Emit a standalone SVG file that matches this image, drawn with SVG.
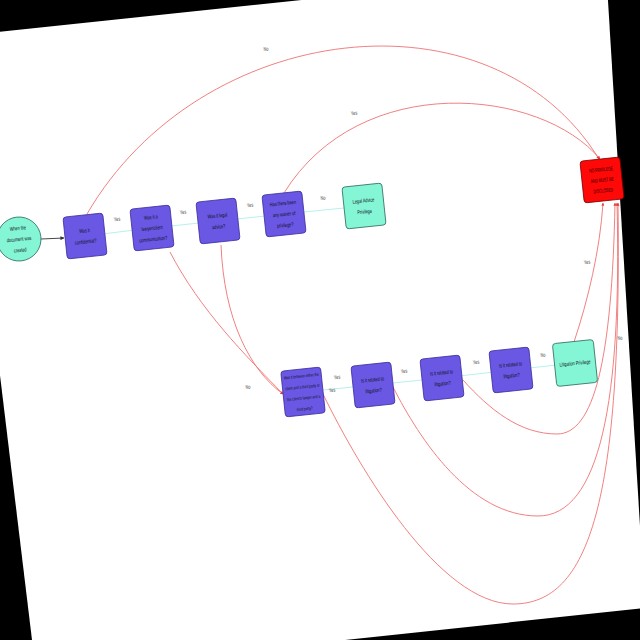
<svg xmlns="http://www.w3.org/2000/svg" width="640" height="640" viewBox="0 0 640 640">
<style>
  text { font-family: "Liberation Sans", Arial, sans-serif; font-size: 5.5px; text-anchor: middle; fill: #101020; }
  .lbl { font-size: 5.5px; fill: #3a3a3a; }
  .p rect { fill: #6a57e4; stroke: #3b2f9c; stroke-width: 0.8; }
  .a rect, .a circle { fill: #84f6d6; stroke: #2e6a5c; stroke-width: 0.8; }
  .r rect { fill: #ff0808; stroke: #7a0000; stroke-width: 0.8; }
  .r text { fill: #200000; }
  .red { fill: none; stroke: #ef7272; stroke-width: 0.9; }
  .flow { fill: none; stroke: #b8f0ee; stroke-width: 1; }
  .dark { fill: none; stroke: #333; stroke-width: 0.9; }
</style>
<defs>
  <marker id="ad" viewBox="0 0 10 10" refX="9" refY="5" markerWidth="4" markerHeight="4" markerUnits="userSpaceOnUse" orient="auto">
    <path d="M0,0 L10,5 L0,10 z" fill="#333"/>
  </marker>
  <marker id="ar" viewBox="0 0 10 10" refX="9" refY="5" markerWidth="3" markerHeight="3" markerUnits="userSpaceOnUse" orient="auto">
    <path d="M0,0 L10,5 L0,10 z" fill="#e83a3a"/>
  </marker>
</defs>
<rect width="640" height="640" fill="#000"/>
<polygon points="-41,36 606,-32 645,608 36,673" fill="#fff"/>

<g id="connectors">
  <path class="dark" marker-end="url(#ad)" d="M41,239 L64,238"/>
  <path class="flow" d="M85,236 L152,228"/>
  <path class="flow" d="M152,228 L218,221"/>
  <path class="flow" d="M218,221 L284,214"/>
  <path class="flow" d="M284,214 L364,206"/>
  <path class="flow" d="M303,392 L373,385"/>
  <path class="flow" d="M373,385 L442,378"/>
  <path class="flow" d="M442,378 L511,370"/>
  <path class="flow" d="M511,370 L575,363"/>
  <path class="red" marker-end="url(#ar)" d="M87,214 C200,20 491,-16 599,159"/>
  <path class="red" marker-end="url(#ar)" d="M284,193 C360,70 541,88 600,159"/>
  <path class="red" marker-end="url(#ar)" d="M170,252 C200,310 245,355 283,394"/>
  <path class="red" marker-end="url(#ar)" d="M221,245 C224,320 250,370 283,394"/>
  <path class="red" marker-end="url(#ar)" d="M323,394 C360,470 440,604 513,604 C590,604 622,500 618,203"/>
  <path class="red" marker-end="url(#ar)" d="M393,387 C420,440 470,516 538,516 C600,516 622,400 617,203"/>
  <path class="red" marker-end="url(#ar)" d="M463,380 C490,410 520,434 557,434 C594,434 612,360 615,203"/>
  <path class="red" marker-end="url(#ar)" d="M574,342 C588,300 600,250 603,203"/>
  <g id="edge-labels">
    <text class="lbl" transform="translate(117,219) rotate(-6) scale(0.7,1)" y="1.8">Yes</text>
    <text class="lbl" transform="translate(183,212) rotate(-6) scale(0.7,1)" y="1.8">Yes</text>
    <text class="lbl" transform="translate(250,205) rotate(-6) scale(0.7,1)" y="1.8">Yes</text>
    <text class="lbl" transform="translate(323,198) rotate(-6) scale(0.7,1)" y="1.8">No</text>
    <text class="lbl" transform="translate(266,49) rotate(-6) scale(0.7,1)" y="1.8">No</text>
    <text class="lbl" transform="translate(354,113) rotate(-6) scale(0.7,1)" y="1.8">Yes</text>
    <text class="lbl" transform="translate(587,262) rotate(-6) scale(0.7,1)" y="1.8">Yes</text>
    <text class="lbl" transform="translate(620,338) rotate(-6) scale(0.7,1)" y="1.8">No</text>
    <text class="lbl" transform="translate(248,387) rotate(-6) scale(0.7,1)" y="1.8">No</text>
    <text class="lbl" transform="translate(337,377) rotate(-6) scale(0.7,1)" y="1.8">Yes</text>
    <text class="lbl" transform="translate(332,390) rotate(-6) scale(0.7,1)" y="1.8">Yes</text>
    <text class="lbl" transform="translate(404,371) rotate(-6) scale(0.7,1)" y="1.8">Yes</text>
    <text class="lbl" transform="translate(476,362) rotate(-6) scale(0.7,1)" y="1.8">Yes</text>
    <text class="lbl" transform="translate(543,355) rotate(-6) scale(0.7,1)" y="1.8">No</text>
  </g>
</g>

<g id="start" class="a" transform="translate(19,239) rotate(-6)">
  <circle r="22"/>
  <text transform="scale(0.7,1)"><tspan x="0" y="-9">When the</tspan><tspan x="0" y="2">document was</tspan><tspan x="0" y="13">created</tspan></text>
</g>
<g id="confidential" class="p" transform="translate(85,236) rotate(-6)">
  <rect x="-20" y="-21" width="40" height="42" rx="3"/>
  <text transform="scale(0.7,1)"><tspan x="0" y="-3.5">Was it</tspan><tspan x="0" y="7.5">confidential?</tspan></text>
</g>
<g id="lawyer-client" class="p" transform="translate(152,228) rotate(-6)">
  <rect x="-20" y="-21" width="40" height="42" rx="3"/>
  <text transform="scale(0.7,1)"><tspan x="0" y="-9">Was it a</tspan><tspan x="0" y="2">lawyer/client</tspan><tspan x="0" y="13">communication?</tspan></text>
</g>
<g id="legal-advice" class="p" transform="translate(218,221) rotate(-6)">
  <rect x="-20" y="-21" width="40" height="42" rx="3"/>
  <text transform="scale(0.7,1)"><tspan x="0" y="-3.5">Was it legal</tspan><tspan x="0" y="7.5">advice?</tspan></text>
</g>
<g id="waiver" class="p" transform="translate(284,214) rotate(-6)">
  <rect x="-20" y="-21" width="40" height="42" rx="3"/>
  <text transform="scale(0.7,1)"><tspan x="0" y="-9">Has there been</tspan><tspan x="0" y="2">any waiver of</tspan><tspan x="0" y="13">privilege?</tspan></text>
</g>
<g id="legal-advice-privilege" class="a" transform="translate(364,206) rotate(-6)">
  <rect x="-20" y="-21" width="40" height="42" rx="3"/>
  <text transform="scale(0.7,1)"><tspan x="0" y="-3.5">Legal Advice</tspan><tspan x="0" y="7.5">Privilege</tspan></text>
</g>
<g id="no-privilege" class="r" transform="translate(602,180) rotate(-6)">
  <rect x="-20" y="-21" width="40" height="42" rx="3"/>
  <text transform="scale(0.62,1)"><tspan x="0" y="-8.5">NO PRIVILEGE</tspan><tspan x="0" y="2">AND MUST BE</tspan><tspan x="0" y="12.5">DISCLOSED</tspan></text>
</g>
<g id="third-party" class="p" transform="translate(303,392) rotate(-6)">
  <rect x="-20" y="-23" width="40" height="46" rx="3"/>
  <text style="font-size:4.5px" transform="scale(0.7,1)"><tspan x="0" y="-14.5">Was it between either the</tspan><tspan x="0" y="-3.5">client and a third party or</tspan><tspan x="0" y="7.5">the client's lawyer and a</tspan><tspan x="0" y="18.5">third party?</tspan></text>
</g>
<g id="litigation-1" class="p" transform="translate(373,385) rotate(-6)">
  <rect x="-20" y="-21" width="40" height="42" rx="3"/>
  <text transform="scale(0.7,1)"><tspan x="0" y="-3.5">Is it related to</tspan><tspan x="0" y="7.5">litigation?</tspan></text>
</g>
<g id="litigation-2" class="p" transform="translate(442,378) rotate(-6)">
  <rect x="-20" y="-21" width="40" height="42" rx="3"/>
  <text transform="scale(0.7,1)"><tspan x="0" y="-3.5">Is it related to</tspan><tspan x="0" y="7.5">litigation?</tspan></text>
</g>
<g id="litigation-3" class="p" transform="translate(511,370) rotate(-6)">
  <rect x="-20" y="-21" width="40" height="42" rx="3"/>
  <text transform="scale(0.7,1)"><tspan x="0" y="-3.5">Is it related to</tspan><tspan x="0" y="7.5">litigation?</tspan></text>
</g>
<g id="litigation-privilege" class="a" transform="translate(575,363) rotate(-6)">
  <rect x="-20.5" y="-21.5" width="41" height="43" rx="3"/>
  <text transform="scale(0.7,1)"><tspan x="0" y="2">Litigation Privilege</tspan></text>
</g>
</svg>
